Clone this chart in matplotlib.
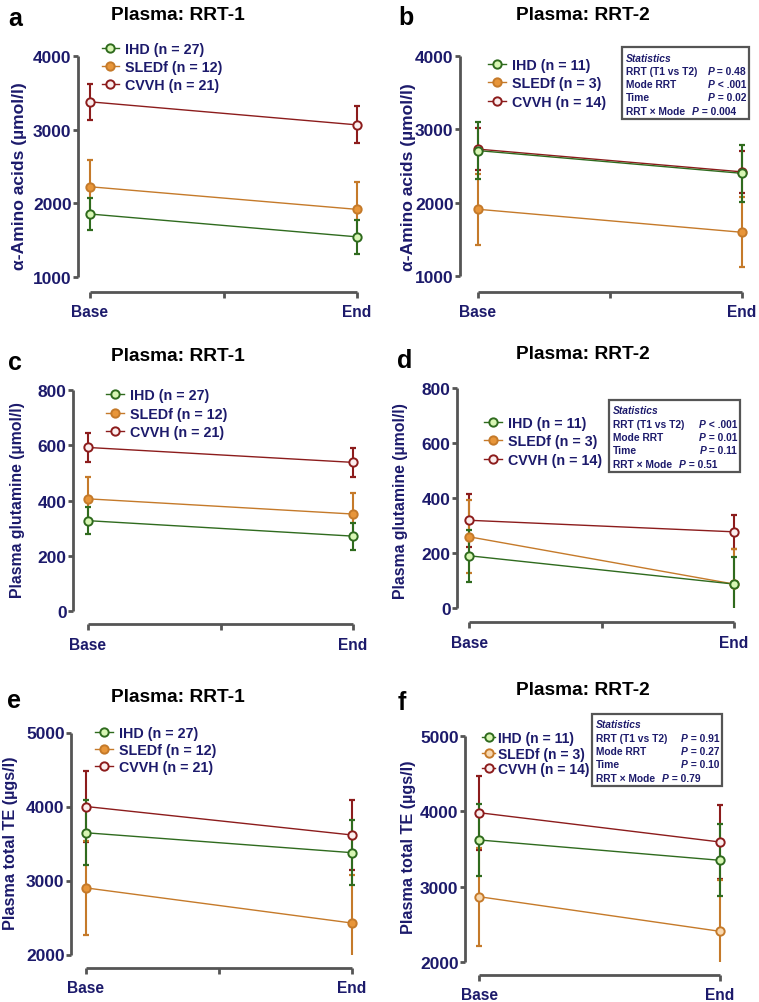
import matplotlib
matplotlib.use('Agg')
import matplotlib.pyplot as plt
from matplotlib.patches import Rectangle
from matplotlib.lines import Line2D

plt.rcParams['font.family'] = ['Liberation Sans', 'DejaVu Sans']

# ---------------- data ----------------
groups = ['IHD', 'SLEDf', 'CVVH']
timepoints = ['Base', 'End']

n_rrt1 = [27, 12, 21]
n_rrt2 = [11, 3, 14]

# panel a: alpha-amino acids, RRT-1
a_mean = {'IHD': [1855, 1545], 'SLEDf': [2225, 1918], 'CVVH': [3378, 3065]}
a_err = {'IHD': [222, 230], 'SLEDf': [370, 370], 'CVVH': [248, 250]}
# panel b: alpha-amino acids, RRT-2
b_mean = {'IHD': [2710, 2400], 'SLEDf': [1910, 1596], 'CVVH': [2730, 2420]}
b_err = {'IHD': [392, 390], 'SLEDf': [485, 480], 'CVVH': [285, 283]}
# panel c: glutamine, RRT-1
c_mean = {'IHD': [327, 271], 'SLEDf': [406, 351], 'CVVH': [592, 538]}
c_err = {'IHD': [48, 49], 'SLEDf': [78, 76], 'CVVH': [53, 52]}
# panel d: glutamine, RRT-2
d_mean = {'IHD': [190, 87], 'SLEDf': [259, 87], 'CVVH': [319, 277]}
d_err = {'IHD': [95, 97], 'SLEDf': [132, 128], 'CVVH': [96, 61]}
# panel e: total TE, RRT-1
e_mean = {'IHD': [3645, 3376], 'SLEDf': [2900, 2425], 'CVVH': [4000, 3615]}
e_err = {'IHD': [440, 441], 'SLEDf': [630, 643], 'CVVH': [478, 475]}
# panel f: total TE, RRT-2
f_mean = {'IHD': [3620, 3350], 'SLEDf': [2867, 2407], 'CVVH': [3982, 3593]}
f_err = {'IHD': [477, 476], 'SLEDf': [650, 681], 'CVVH': [491, 493]}

stats_b = [('RRT (T1 vs T2)', '= 0.48'), ('Mode RRT', '< .001'),
           ('Time', '= 0.02'), ('RRT \u00d7 Mode', '= 0.004')]
stats_d = [('RRT (T1 vs T2)', '< .001'), ('Mode RRT', '= 0.01'),
           ('Time', '= 0.11'), ('RRT \u00d7 Mode', '= 0.51')]
stats_f = [('RRT (T1 vs T2)', '= 0.91'), ('Mode RRT', '= 0.27'),
           ('Time', '= 0.10'), ('RRT \u00d7 Mode', '= 0.79')]

# ---------------- style ----------------
W, H = 759, 1003
fig = plt.figure(figsize=(W / 100, H / 100), dpi=100)
NAVY = '#1c1a6b'
AXC = '#555555'
LINE = {'IHD': '#2f6b1e', 'SLEDf': '#c57a2a', 'CVVH': '#8c1c1c'}
FACE = {'IHD': '#d8f6b4', 'SLEDf': '#e8963a', 'CVVH': '#fbeeee'}
STAT_FONT = ['Liberation Sans Narrow', 'Liberation Sans', 'DejaVu Sans']


def fx(x):
    return x / W


def fy(y):
    return 1 - y / H


def panel(geo, means, errs, ns, ylabel, ylab_geo, title, title_geo,
          letter, letter_geo, leg_geo, face_override=None):
    sx, ytp, ybp, yt, yb, xa, bx, ex, step, mid = geo
    L, R, T, B = sx, ex + 14, ytp, xa
    ax = fig.add_axes([fx(L), fy(B), (R - L) / W, (B - T) / H])
    x0 = (L - bx) / (ex - bx)
    x1 = (R - bx) / (ex - bx)
    upp = (yt - yb) / (ybp - ytp)
    y0 = yb - (B - ybp) * upp
    ax.set_xlim(x0, x1)
    ax.set_ylim(y0, yt)
    ax.patch.set_visible(False)
    for s in ['top', 'right']:
        ax.spines[s].set_visible(False)
    for s in ['left', 'bottom']:
        ax.spines[s].set_color(AXC)
        ax.spines[s].set_linewidth(2.0)
        ax.spines[s].set_capstyle('butt')
    ax.spines['left'].set_bounds(yb, yt)
    ax.spines['bottom'].set_bounds(0, 1)
    yt_vals = list(range(yb, yt + 1, step))
    ax.set_yticks(yt_vals)
    ax.set_yticklabels([str(v) for v in yt_vals])
    if mid:
        ax.set_xticks([0, 0.5, 1])
        ax.set_xticklabels([timepoints[0], '', timepoints[1]])
    else:
        ax.set_xticks([0, 1])
        ax.set_xticklabels(timepoints)
    ax.tick_params(axis='x', length=4, width=2, color=AXC, pad=5,
                   labelsize=11.2, labelcolor=NAVY)
    ax.tick_params(axis='y', length=3.6, width=2, color=AXC, pad=1,
                   labelsize=12.5, labelcolor=NAVY)
    for lab in ax.get_xticklabels() + ax.get_yticklabels():
        lab.set_fontweight('bold')

    clip = Rectangle((x0, yb), x1 - x0, (yt - yb) * 2, transform=ax.transData)
    face = dict(FACE)
    if face_override:
        face.update(face_override)
    xs = [0, 1]
    for g in ['CVVH', 'SLEDf', 'IHD']:
        eb = ax.errorbar(xs, means[g], yerr=errs[g], fmt='none',
                         ecolor=LINE[g], elinewidth=1.5, capsize=2.5,
                         capthick=1.6, zorder=2)
        for art in list(eb.lines[1]) + list(eb.lines[2]):
            art.set_clip_path(clip)
        ax.plot(xs, means[g], '-', color=LINE[g], lw=1.0, zorder=3,
                clip_on=False)
        ax.plot(xs, means[g], 'o', ms=6, mfc=face[g], mec=LINE[g], mew=1.4,
                zorder=4, clip_on=False)

    handles = [Line2D([], [], color=LINE[g], lw=1.0, marker='o', ms=6,
                      mfc=face[g], mec=LINE[g], mew=1.4) for g in groups]
    labels = ['%s (n = %d)' % (g, n) for g, n in zip(groups, ns)]
    mx, my, lsp, hl, hp, lfs_ = leg_geo
    hpx = hl * lfs_ * 100 / 72
    leg = ax.legend(handles, labels, loc='upper left',
                    bbox_to_anchor=(fx(mx - hpx / 2), fy(my - 5.0)),
                    bbox_transform=fig.transFigure, frameon=False,
                    borderpad=0, borderaxespad=0, handlelength=hl,
                    handletextpad=hp, labelspacing=lsp,
                    prop=dict(weight='bold', size=lfs_))
    for t in leg.get_texts():
        t.set_color(NAVY)

    lx, ly, lfs = ylab_geo
    fig.text(fx(lx), fy(ly), ylabel, rotation=90, ha='center', va='center',
             fontsize=lfs, fontweight='bold', color=NAVY)
    tx, ty = title_geo
    fig.text(fx(tx), fy(ty), title, ha='center', va='baseline',
             fontsize=13.8, fontweight='bold', color='black')
    cx, cy = letter_geo
    fig.text(fx(cx), fy(cy), letter, ha='left', va='baseline',
             fontsize=18, fontweight='bold', color='black')
    return ax


def stats_box(box, rows):
    x0, y0, x1, y1 = box
    r = fig.canvas.get_renderer()
    fig.patches.append(Rectangle((fx(x0), fy(y1)), (x1 - x0) / W,
                                 (y1 - y0) / H, transform=fig.transFigure,
                                 facecolor='white', edgecolor=AXC, lw=1.6,
                                 zorder=10))
    kw = dict(fontsize=7.4, fontweight='bold', color=NAVY, zorder=11,
              family=STAT_FONT, va='baseline')
    base = y0 + 13.5
    dy = 13.3
    fig.text(fx(x0 + 4), fy(base), 'Statistics', ha='left',
             fontstyle='italic', **kw)
    for i, (lab, val) in enumerate(rows):
        yy = base + dy * (i + 1)
        fig.text(fx(x0 + 4), fy(yy), lab, ha='left', **kw)
        if i < 3:
            tv = fig.text(fx(x1 - 3), fy(yy), ' ' + val, ha='right', **kw)
            bb = tv.get_window_extent(r)
            fig.text(bb.x0 / W, fy(yy), 'P', ha='right', fontstyle='italic',
                     **kw)
        else:
            tp = fig.text(fx(x0 + 70), fy(yy), 'P', ha='left',
                          fontstyle='italic', **kw)
            bb = tp.get_window_extent(r)
            fig.text(bb.x1 / W, fy(yy), ' ' + val, ha='left', **kw)


ylab_aa = '\u03b1-Amino acids (\u00b5mol/l)'
ylab_gl = 'Plasma glutamine (\u00b5mol/l)'
ylab_te = 'Plasma total TE (\u00b5gs/l)'

panel((78, 57, 278, 4000, 1000, 293, 90, 357, 1000, True),
      a_mean, a_err, n_rrt1, ylab_aa, (20, 176, 12.6),
      'Plasma: RRT-1', (178, 20.5), 'a', (8, 26),
      (110.5, 48, 0.28, 1.2, 0.42, 10.3))
panel((460, 57, 277, 4000, 1000, 293, 478, 742, 1000, True),
      b_mean, b_err, n_rrt2, ylab_aa, (408, 177, 12.6),
      'Plasma: RRT-2', (583, 20), 'b', (398, 25),
      (497, 64, 0.3, 1.2, 0.42, 10.3))
stats_box((622, 48, 749, 120), stats_b)

panel((73, 391, 612, 800, 0, 625, 88, 353, 200, True),
      c_mean, c_err, n_rrt1, ylab_gl, (17.5, 500, 11.4),
      'Plasma: RRT-1', (178, 361.5), 'c', (8, 370.5),
      (115, 394, 0.32, 1.2, 0.42, 10.3))
panel((457, 389, 609, 800, 0, 623, 469, 734, 200, True),
      d_mean, d_err, n_rrt2, ylab_gl, (400, 501, 11.4),
      'Plasma: RRT-2', (583, 359.5), 'd', (397, 367.5),
      (493, 422, 0.3, 1.2, 0.42, 10.3))
stats_box((609, 401, 740, 473), stats_d)

panel((71, 733.5, 955.5, 5000, 2000, 969, 86, 352, 1000, True),
      e_mean, e_err, n_rrt1, ylab_te, (11, 843, 11.7),
      'Plasma: RRT-1', (178, 702), 'e', (7, 708.5),
      (104, 732, 0.22, 1.2, 0.42, 10.3))
panel((465, 737, 963, 5000, 2000, 976, 479, 720, 1000, False),
      f_mean, f_err, n_rrt2, ylab_te, (408, 847, 11.7),
      'Plasma: RRT-2', (583, 695), 'f', (398, 710),
      (488.5, 737, 0.12, 0.95, 0.2, 10.0),
      face_override={'SLEDf': '#f8d8b0'})
stats_box((592, 715, 722, 787), stats_f)

fig.savefig('out.png', dpi=100)
